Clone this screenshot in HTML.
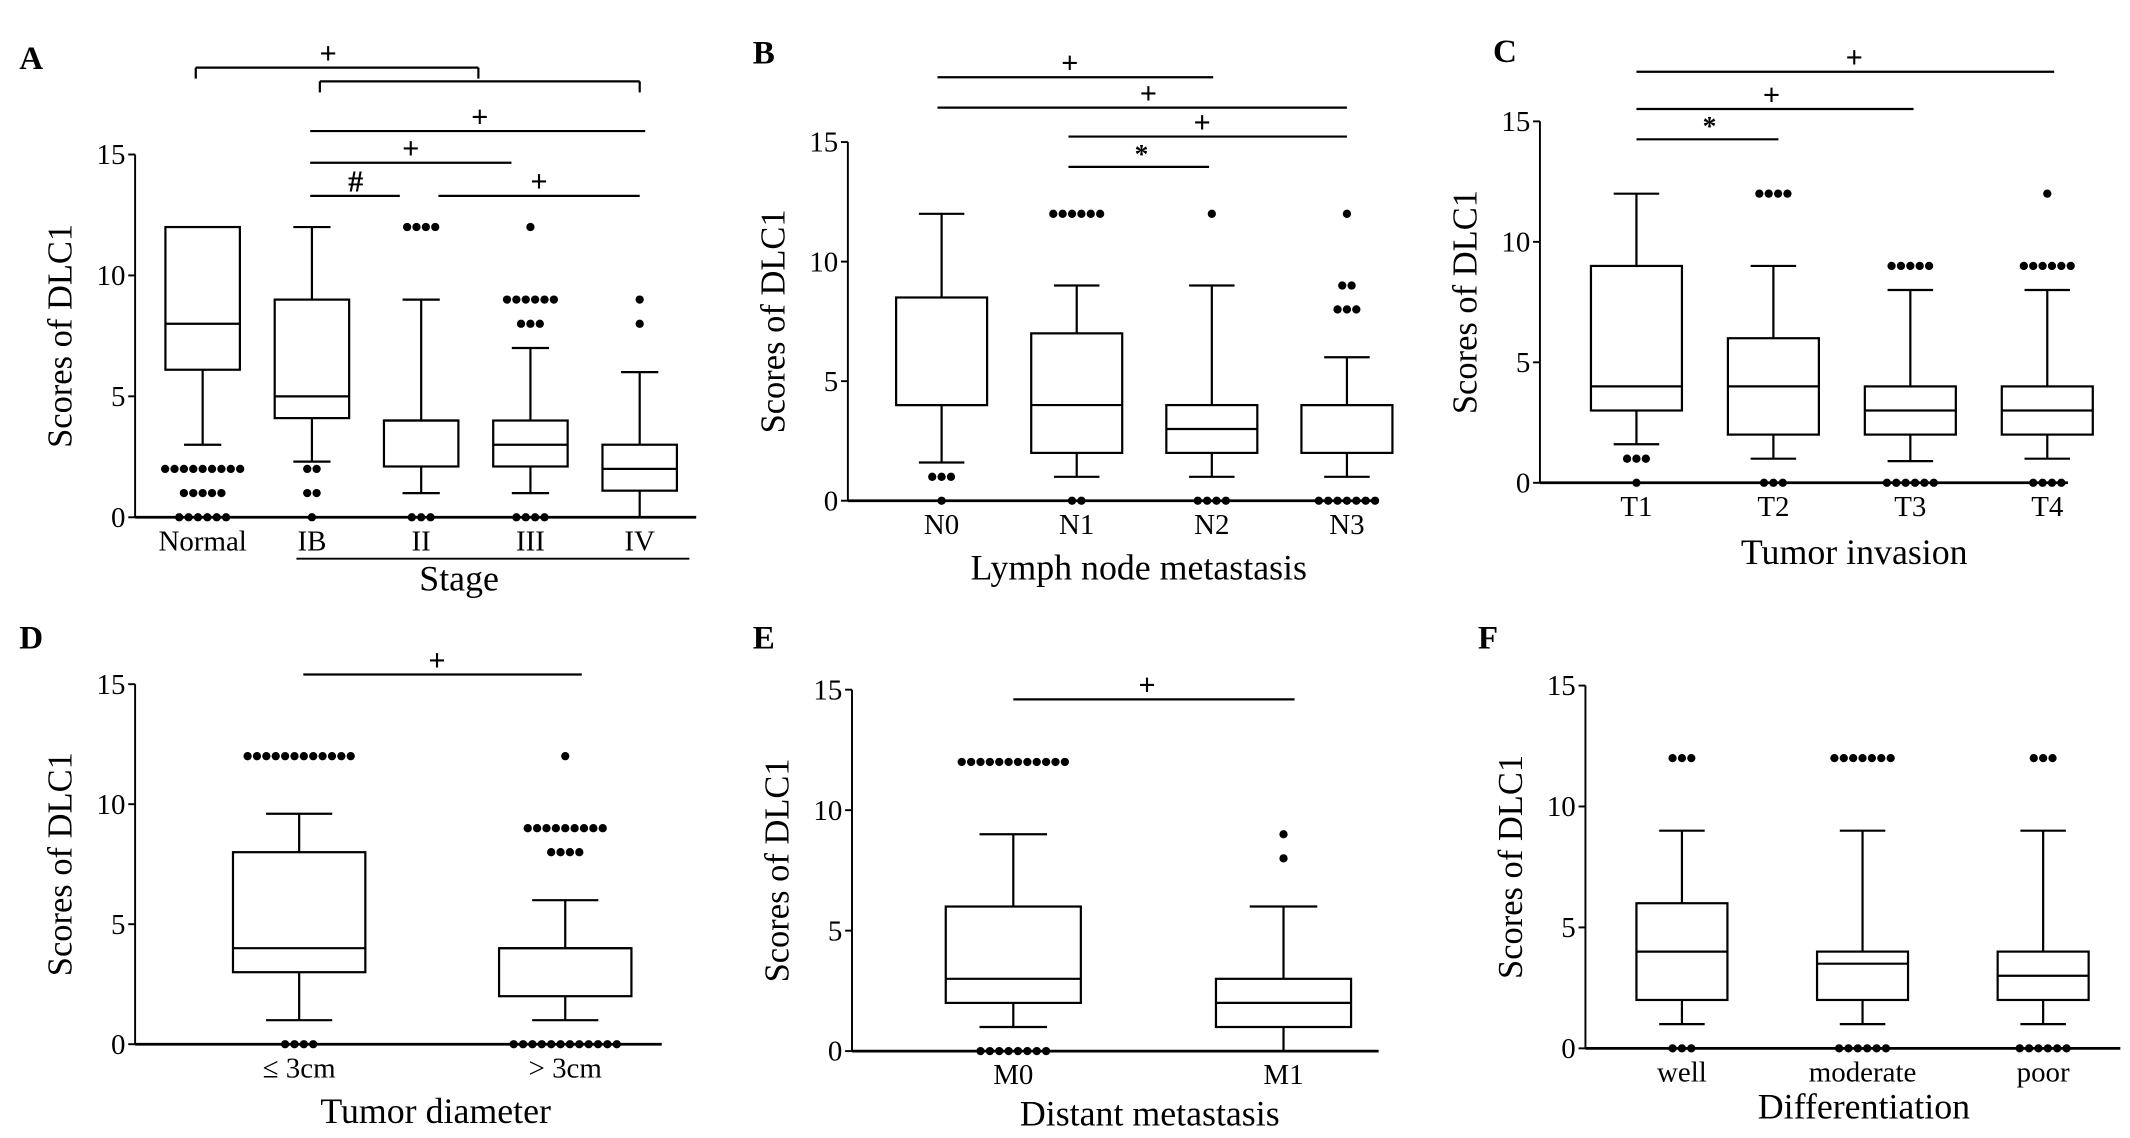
<!DOCTYPE html>
<html><head><meta charset="utf-8">
<style>
html,body{margin:0;padding:0;background:#fff;}
svg{display:block;}
text{font-family:"Liberation Serif",serif;fill:#000;}
</style></head>
<body>
<svg id="fig" width="2130" height="1138" viewBox="0 0 1545 825" preserveAspectRatio="none"></svg>
<script>
// ---- Panel A data ----
const catsA = ["Normal","IB","II","III","IV"];
const q1A = [6.1,4.1,2.1,2.1,1.1];
const medA = [8,5,4,3,2];
const q3A = [12,9,4,4,3];
const wloA = [3,2.3,1,1,0];
const whiA = [12,12,9,7,6];
const outA = [[2,2,2,2,2,2,2,2,2,1,1,1,1,1,0,0,0,0,0,0],[2,2,1,1,0],[12,12,12,12,0,0,0],[12,9,9,9,9,9,9,8,8,8,0,0,0,0],[9,8]];
// ---- Panel B data ----
const catsB = ["N0","N1","N2","N3"];
const q1B = [4,2,2,2];
const medB = [4,4,3,4];
const q3B = [8.5,7,4,4];
const wloB = [1.6,1,1,1];
const whiB = [12,9,9,6];
const outB = [[1,1,1,0],[12,12,12,12,12,12,0,0],[12,0,0,0,0],[12,9,9,8,8,8,0,0,0,0,0,0,0]];
// ---- Panel C data ----
const catsC = ["T1","T2","T3","T4"];
const q1C = [3,2,2,2];
const medC = [4,4,3,3];
const q3C = [9,6,4,4];
const wloC = [1.6,1,0.9,1];
const whiC = [12,9,8,8];
const outC = [[1,1,1,0],[12,12,12,12,0,0,0],[9,9,9,9,9,0,0,0,0,0,0],[12,9,9,9,9,9,9,0,0,0,0]];
// ---- Panel D data ----
const catsD = ["≤ 3cm","> 3cm"];
const q1D = [3,2];
const medD = [4,4];
const q3D = [8,4];
const wloD = [1,1];
const whiD = [9.6,6];
const outD = [[12,12,12,12,12,12,12,12,12,12,12,12,0,0,0,0],[12,9,9,9,9,9,9,9,9,9,8,8,8,8,0,0,0,0,0,0,0,0,0,0,0,0]];
// ---- Panel E data ----
const catsE = ["M0","M1"];
const q1E = [2,1];
const medE = [3,2];
const q3E = [6,3];
const wloE = [1,0];
const whiE = [9,6];
const outE = [[12,12,12,12,12,12,12,12,12,12,12,12,0,0,0,0,0,0,0,0],[9,8]];
// ---- Panel F data ----
const catsF = ["well","moderate","poor"];
const q1F = [2,2,2];
const medF = [4,3.5,3];
const q3F = [6,4,4];
const wloF = [1,1,1];
const whiF = [9,9,9];
const outF = [[12,12,12,0,0,0],[12,12,12,12,12,12,12,0,0,0,0,0,0],[12,12,12,0,0,0,0,0,0]];
const yTicks = [0,5,10,15];

const NS="http://www.w3.org/2000/svg";
const svg=document.getElementById('fig');
function mk(tag,attrs,parent,txt){
  const e=document.createElementNS(NS,tag);
  for(const k in attrs)e.setAttribute(k,attrs[k]);
  if(txt!==undefined)e.textContent=txt;
  (parent||svg).appendChild(e);return e;
}
function line(g,x1,y1,x2,y2,w){return mk('line',{x1:x1,y1:y1,x2:x2,y2:y2,stroke:'#000','stroke-width':w||1.6},g);}

function panel(cfg){
  const g=mk('g',{});
  
  
  const yS=v=>cfg.y0+(cfg.y15-cfg.y0)*v/15;
  const xS=i=>cfg.xs[0]+(cfg.xs[1]-cfg.xs[0])*i/(cfg.cats.length-1);
  const lab=mk('text',{x:cfg.lx,y:cfg.ly,'font-size':24,'font-weight':'bold'},g,cfg.id);
  
  
  const ya=line(g,cfg.ax,cfg.y15,cfg.ax,cfg.y0,1.4);
  
  
  const xa=line(g,cfg.ax,cfg.y0,cfg.xEnd,cfg.y0,2);
  
  
  yTicks.forEach(t=>{
    line(g,cfg.ax-5,yS(t),cfg.ax,yS(t),1.4);
    const tl=mk('text',{x:cfg.ax-7,y:yS(t)+7,'font-size':21,'text-anchor':'end'},g,String(t));
    
    
  });
  const yt=mk('text',{x:0,y:0,'font-size':25,'text-anchor':'middle',transform:`translate(${cfg.ax-46},${(cfg.y0+cfg.y15)/2}) rotate(-90)`},g,'Scores of DLC1');
  
  
  cfg.cats.forEach((c,i)=>{
    const x=xS(i),hw=cfg.bw/2;
    const bg=mk('g',{},g);
    
    
    line(bg,x,yS(cfg.whi[i]),x,yS(cfg.q3[i]));
    line(bg,x,yS(cfg.q1[i]),x,yS(cfg.wlo[i]));
    line(bg,x-hw/2,yS(cfg.whi[i]),x+hw/2,yS(cfg.whi[i]));
    if(cfg.wlo[i]>0)line(bg,x-hw/2,yS(cfg.wlo[i]),x+hw/2,yS(cfg.wlo[i]));
    mk('rect',{x:x-hw,y:yS(cfg.q3[i]),width:cfg.bw,height:yS(cfg.q1[i])-yS(cfg.q3[i]),fill:'#fff',stroke:'#000','stroke-width':1.6},bg);
    line(bg,x-hw,yS(cfg.med[i]),x+hw,yS(cfg.med[i]));
    const groups={};
    cfg.out[i].forEach(v=>{groups[v]=(groups[v]||0)+1;});
    for(const v in groups){
      const n=groups[v];
      for(let k=0;k<n;k++){
        const d=mk('circle',{cx:x+(k-(n-1)/2)*6.8,cy:yS(+v),r:3,fill:'#000'},bg);
        
        
      }
    }
    const cl=mk('text',{x:x,y:cfg.y0+24,'font-size':21,'text-anchor':'middle'},g,c);
    
    
  });
  const xt=mk('text',{x:cfg.tx,y:cfg.ty,'font-size':26,'text-anchor':'middle'},g,cfg.title);
  
  
  cfg.sig.forEach(s=>{
    const sg=mk('g',{},g);
    
    
    line(sg,s[0],s[2],s[1],s[2]);
    if(s[5]){line(sg,s[0],s[2],s[0],s[2]+s[5]);line(sg,s[1],s[2],s[1],s[2]+s[5]);}
    if(s[3])mk('text',{x:s[4],y:s[2]-3,'font-size':s[3]=='*'?20:22,'font-weight':'bold','text-anchor':'middle'},sg,s[3]);
  });
  return g;
}

const gA=panel({id:'A',lx:14,ly:50,ax:98,y0:375,y15:112,xEnd:505,xs:[147,464],bw:54,cats:catsA,q1:q1A,med:medA,q3:q3A,wlo:wloA,whi:whiA,out:outA,title:'Stage',tx:333,ty:428,
  sig:[[142,347,49,'+',238,8],[232,464,59,'',0,8],[225,468,95,'+',348],[225,371,118,'+',298],[225,290,142,'#',258],[318,464,142,'+',391]]});
const st=line(gA,215,405,500,405,1.4);


panel({id:'B',lx:546,ly:46,ax:615,y0:363,y15:103,xEnd:1000,xs:[683,977],bw:66,cats:catsB,q1:q1B,med:medB,q3:q3B,wlo:wloB,whi:whiB,out:outB,title:'Lymph node metastasis',tx:826,ty:420,
  sig:[[680,880,56,'+',776],[680,977,78,'+',833],[775,977,99,'+',872],[775,877,121,'*',828]]});
panel({id:'C',lx:1083,ly:45,ax:1117,y0:350,y15:88,xEnd:1500,xs:[1187,1485],bw:66,cats:catsC,q1:q1C,med:medC,q3:q3C,wlo:wloC,whi:whiC,out:outC,title:'Tumor invasion',tx:1345,ty:409,
  sig:[[1187,1490,52,'+',1345],[1187,1388,79,'+',1285],[1187,1290,101,'*',1240]]});
panel({id:'D',lx:14,ly:470,ax:98,y0:757,y15:496,xEnd:480,xs:[217,410],bw:96,cats:catsD,q1:q1D,med:medD,q3:q3D,wlo:wloD,whi:whiD,out:outD,title:'Tumor diameter',tx:316,ty:814,
  sig:[[220,422,489,'+',317]]});
panel({id:'E',lx:546,ly:470,ax:618,y0:762,y15:500,xEnd:1000,xs:[735,931],bw:98,cats:catsE,q1:q1E,med:medE,q3:q3E,wlo:wloE,whi:whiE,out:outE,title:'Distant metastasis',tx:834,ty:816,
  sig:[[735,939,507,'+',832]]});
panel({id:'F',lx:1072,ly:470,ax:1150,y0:760,y15:497,xEnd:1538,xs:[1220,1482],bw:66,cats:catsF,q1:q1F,med:medF,q3:q3F,wlo:wloF,whi:whiF,out:outF,title:'Differentiation',tx:1352,ty:811,
  sig:[]});
</script>
</body></html>
